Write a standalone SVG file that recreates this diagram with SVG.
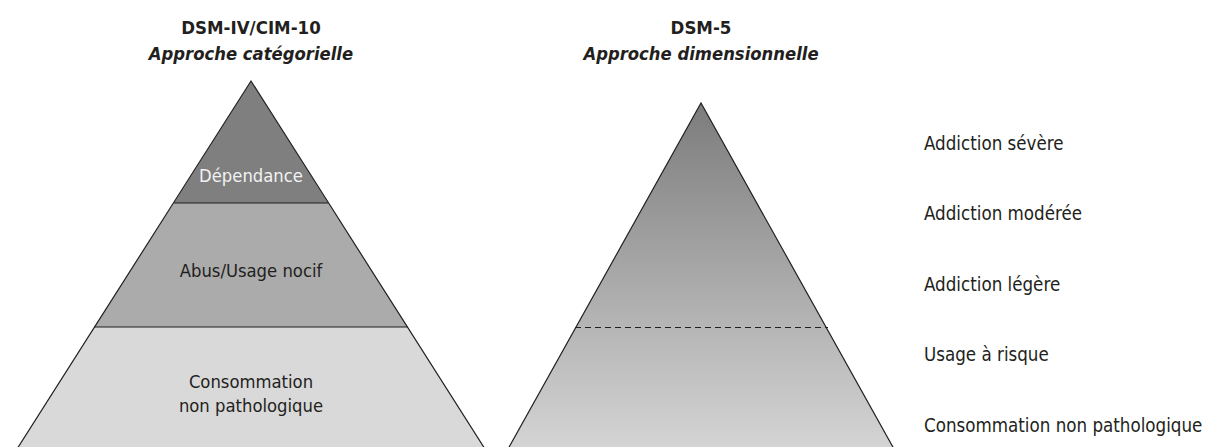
<svg xmlns="http://www.w3.org/2000/svg" width="1205" height="447" viewBox="0 0 1205 447">
<style>
text{font-family:"DejaVu Sans","Liberation Sans",sans-serif;font-stretch:condensed;fill:#231f20}
.t{font-size:18.5px;font-weight:bold;text-anchor:middle}
.s{font-size:18.3px;font-style:italic;font-weight:bold;text-anchor:middle}
.l{font-size:18.3px;text-anchor:middle}
.r{font-size:18.6px}
.edge{stroke:#231f20;stroke-width:1.2;fill:none}
</style>
<defs>
<linearGradient id="g" x1="0" y1="103" x2="0" y2="447" gradientUnits="userSpaceOnUse">
<stop offset="0" stop-color="#7c7c7c"/>
<stop offset="1" stop-color="#d4d4d4"/>
</linearGradient>
</defs>
<g id="titleLeft">
<text class="t" x="251" y="34">DSM-IV/CIM-10</text>
<text class="s" x="251" y="60">Approche catégorielle</text>
</g>
<g id="titleRight">
<text class="t" x="701" y="34">DSM-5</text>
<text class="s" x="701" y="60">Approche dimensionnelle</text>
</g>
<g id="dependance">
<polygon points="251,81 174,203 328,203" fill="#7f7f7f"/>
<text class="l" x="251" y="182" style="fill:#f2f2f2">Dépendance</text>
</g>
<g id="abus">
<polygon points="174,203 328,203 408,327 94,327" fill="#ababab"/>
<text class="l" x="251" y="277">Abus/Usage nocif</text>
</g>
<g id="consommation">
<polygon points="94,327 408,327 485,449 17,449" fill="#d9d9d9"/>
<text class="l" x="251" y="388">Consommation</text>
<text class="l" x="251" y="412">non pathologique</text>
</g>
<g id="dimensional">
<polygon points="701,103 508,449 894,449" fill="url(#g)"/>
</g>
<g id="connectors">
<path class="edge" d="M17,449 L251,81 L485,449"/>
<path class="edge" d="M174,203 H328 M94,327 H408"/>
<path class="edge" d="M508,449 L701,103 L894,449"/>
<path class="edge" d="M575,327.5 H828" stroke-dasharray="6,4"/>
</g>
<g id="labels">
<text class="r" x="924" y="150">Addiction sévère</text>
<text class="r" x="924" y="220">Addiction modérée</text>
<text class="r" x="924" y="291">Addiction légère</text>
<text class="r" x="924" y="361">Usage à risque</text>
<text class="r" x="924" y="432">Consommation non pathologique</text>
</g>
</svg>
